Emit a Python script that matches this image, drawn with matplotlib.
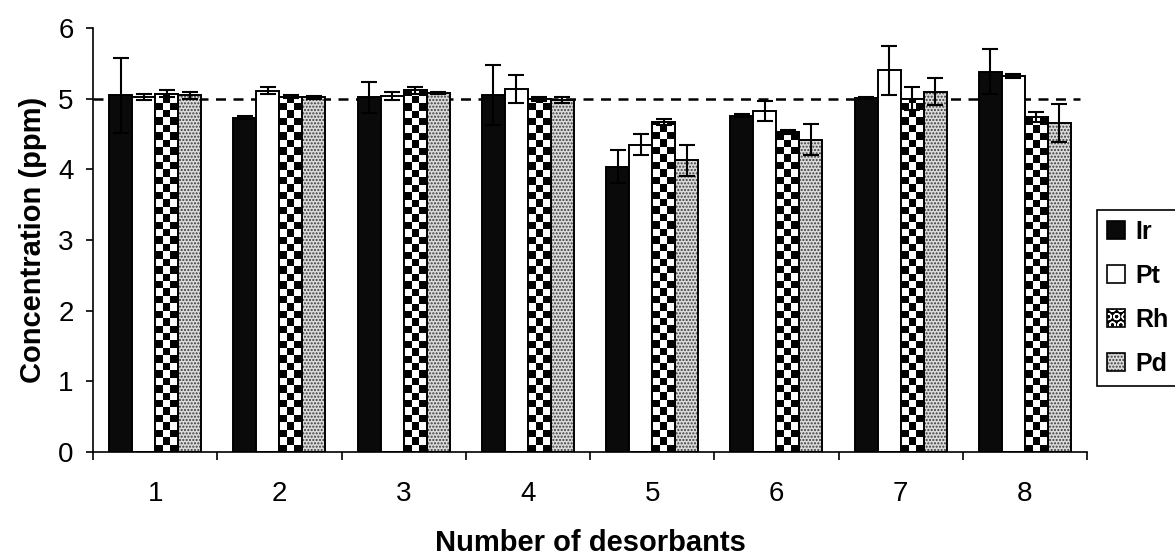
import numpy as np
import matplotlib
matplotlib.use("Agg")
import matplotlib.pyplot as plt
from matplotlib.patches import Patch
from matplotlib.legend_handler import HandlerTuple

# Recovered concentrations (ppm) for each number of desorbants
groups = [1, 2, 3, 4, 5, 6, 7, 8]
series_names = ["Ir", "Pt", "Rh", "Pd"]
ir_vals = [5.05, 4.73, 5.02, 5.05, 4.04, 4.76, 5.01, 5.38]
ir_err = [0.53, 0.02, 0.22, 0.42, 0.24, 0.02, 0.02, 0.32]
pt_vals = [5.02, 5.11, 5.04, 5.14, 4.35, 4.83, 5.40, 5.32]
pt_err = [0.04, 0.05, 0.06, 0.20, 0.15, 0.14, 0.35, 0.03]
rh_vals = [5.07, 5.03, 5.12, 4.99, 4.67, 4.53, 5.00, 4.74]
rh_err = [0.05, 0.02, 0.05, 0.03, 0.04, 0.03, 0.16, 0.07]
pd_vals = [5.05, 5.02, 5.08, 4.98, 4.13, 4.42, 5.10, 4.66]
pd_err = [0.05, 0.02, 0.02, 0.04, 0.22, 0.22, 0.19, 0.27]
target_level = 5.0
y_ticks = [0, 1, 2, 3, 4, 5, 6]

plt.rcParams["font.family"] = ["Liberation Sans", "DejaVu Sans"]
plt.rcParams["hatch.linewidth"] = 1.0

fig = plt.figure(figsize=(11.75, 5.58), dpi=100)
ax = fig.add_axes([93 / 1175, 1 - 452 / 558, (1087 - 93) / 1175, (452 - 28) / 558])

x = np.arange(len(groups)) + 1.0
w = 0.185
offsets = (np.arange(4) - 1.5) * w
edge_lw = 1.4
stipple_face = "#dadada"
stipple_dots = "#3a3a3a"

# Ir: solid black
ax.bar(x + offsets[0], ir_vals, w, facecolor="#0a0a0a", edgecolor="black",
       linewidth=edge_lw, zorder=2)
# Pt: white
ax.bar(x + offsets[1], pt_vals, w, facecolor="white", edgecolor="black",
       linewidth=edge_lw, zorder=2)
# Rh: black/white checkerboard clipped to each bar
rh_bars = ax.bar(x + offsets[2], rh_vals, w, facecolor="black", edgecolor="black",
                 linewidth=edge_lw, zorder=2)
cell_x = w / 3.0
cell_y = 0.105
for p in rh_bars.patches:
    x0, h = p.get_x(), p.get_height()
    ny = int(np.ceil(h / cell_y))
    board = (np.indices((ny, 3)).sum(axis=0) % 2).astype(float)
    im = ax.imshow(board, cmap="gray", vmin=0, vmax=1, interpolation="nearest",
                   aspect="auto", origin="lower",
                   extent=(x0, x0 + 3 * cell_x, 0, ny * cell_y), zorder=2.1)
    im.set_clip_path(p)
ax.bar(x + offsets[2], rh_vals, w, fill=False, edgecolor="black",
       linewidth=edge_lw, zorder=2.2)
# Pd: light grey stipple
ax.bar(x + offsets[3], pd_vals, w, facecolor=stipple_face, edgecolor=stipple_dots,
       hatch=".....", linewidth=0, zorder=2)
ax.bar(x + offsets[3], pd_vals, w, fill=False, edgecolor="black",
       linewidth=edge_lw, zorder=2.2)

# Error bars
for off, vals, errs in [(offsets[0], ir_vals, ir_err), (offsets[1], pt_vals, pt_err),
                        (offsets[2], rh_vals, rh_err), (offsets[3], pd_vals, pd_err)]:
    ax.errorbar(x + off, vals, yerr=errs, fmt="none", ecolor="black",
                elinewidth=1.5, capsize=6, capthick=1.5, zorder=3)

# Reference level
ax.axhline(target_level, xmin=0.0, xmax=0.993, color="black", linestyle=(0, (4, 3)),
           linewidth=1.8, zorder=1)

ax.set_xlim(0.5, len(groups) + 0.5)
ax.set_ylim(0, 6)
ax.set_yticks(y_ticks)
ax.set_xticks(x)
ax.set_xticklabels([str(g) for g in groups])
ax.set_xticks(np.arange(len(groups) + 1) + 0.5, minor=True)
ax.tick_params(axis="x", which="major", length=0, pad=21, labelsize=20)
ax.tick_params(axis="x", which="minor", length=6, width=1.2, direction="out")
ax.tick_params(axis="y", which="major", length=5, width=1.2, direction="out",
               pad=9, labelsize=20)
for s in ["top", "right"]:
    ax.spines[s].set_visible(False)
for s in ["left", "bottom"]:
    ax.spines[s].set_linewidth(1.2)

ax.set_xlabel("Number of desorbants", fontsize=21, fontweight="bold", labelpad=16)
ax.set_ylabel("Concentration (ppm)", fontsize=21, fontweight="bold", labelpad=8)

# Legend with composite swatches
h_ir = Patch(facecolor="#0a0a0a", edgecolor="black", linewidth=1.2)
h_pt = Patch(facecolor="white", edgecolor="black", linewidth=1.2)
h_rh = (Patch(facecolor="black", edgecolor="white", hatch="OO", linewidth=0),
        Patch(fill=False, edgecolor="black", linewidth=1.2))
h_pd = (Patch(facecolor=stipple_face, edgecolor=stipple_dots, hatch=".....", linewidth=0),
        Patch(fill=False, edgecolor="black", linewidth=1.2))
leg = fig.legend([h_ir, h_pt, h_rh, h_pd], series_names,
                 loc="lower left", bbox_to_anchor=(1097 / 1175, 1 - 386 / 558),
                 bbox_transform=fig.transFigure, borderaxespad=0,
                 prop={"weight": "bold", "size": 18}, frameon=True,
                 fancybox=False, edgecolor="black", framealpha=1,
                 handlelength=0.72, handleheight=0.72, handletextpad=0.4,
                 labelspacing=0.8, borderpad=0.4,
                 handler_map={tuple: HandlerTuple(ndivide=1, pad=0)})
leg.get_frame().set_linewidth(1.2)

fig.savefig("out.png", dpi=100)
